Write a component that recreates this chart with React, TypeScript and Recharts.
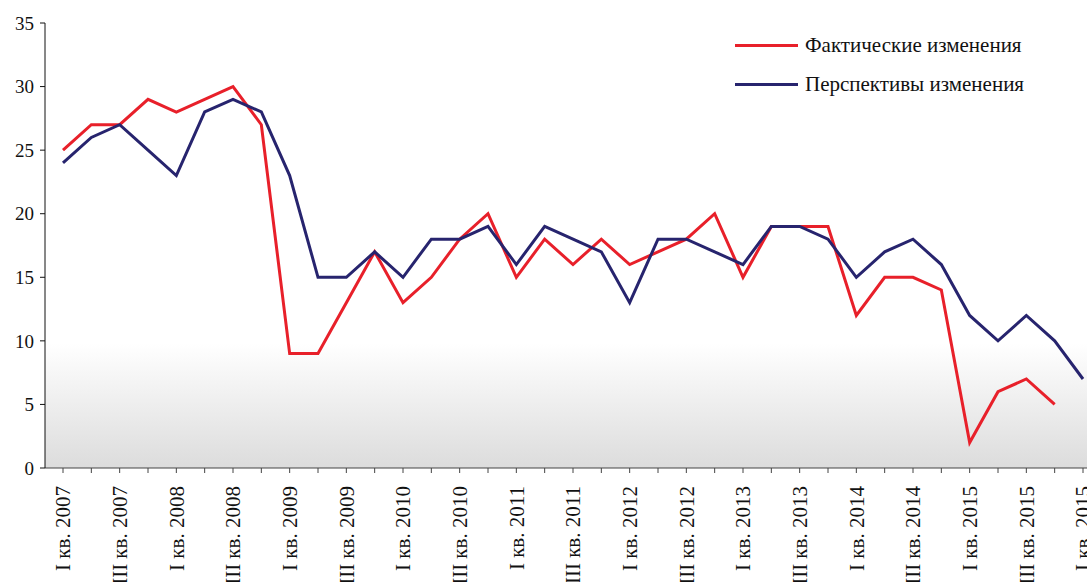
import { LineChart, Line, XAxis, YAxis, CartesianGrid } from 'recharts';

const QUARTERS = [
  'I кв. 2007', 'II кв. 2007', 'III кв. 2007', 'IV кв. 2007',
  'I кв. 2008', 'II кв. 2008', 'III кв. 2008', 'IV кв. 2008',
  'I кв. 2009', 'II кв. 2009', 'III кв. 2009', 'IV кв. 2009',
  'I кв. 2010', 'II кв. 2010', 'III кв. 2010', 'IV кв. 2010',
  'I кв. 2011', 'II кв. 2011', 'III кв. 2011', 'IV кв. 2011',
  'I кв. 2012', 'II кв. 2012', 'III кв. 2012', 'IV кв. 2012',
  'I кв. 2013', 'II кв. 2013', 'III кв. 2013', 'IV кв. 2013',
  'I кв. 2014', 'II кв. 2014', 'III кв. 2014', 'IV кв. 2014',
  'I кв. 2015', 'II кв. 2015', 'III кв. 2015', 'IV кв. 2015',
  'I кв. 2015',
];

const ACTUAL = [
  25, 27, 27, 29, 28, 29, 30, 27,
  9, 9, 13, 17, 13, 15, 18, 20,
  15, 18, 16, 18, 16, 17, 18, 20,
  15, 19, 19, 19, 12, 15, 15, 14,
  2, 6, 7, 5, null,
];

const OUTLOOK = [
  24, 26, 27, 25, 23, 28, 29, 28,
  23, 15, 15, 17, 15, 18, 18, 19,
  16, 19, 18, 17, 13, 18, 18, 17,
  16, 19, 19, 18, 15, 17, 18, 16,
  12, 10, 12, 10, 7,
];

const Y_TICKS = [0, 5, 10, 15, 20, 25, 30, 35];

const RED = '#e8202a';
const NAVY = '#27246e';
const FONT = '"Liberation Serif", "Times New Roman", serif';

const data = QUARTERS.map((q, i) => ({ q, actual: ACTUAL[i], outlook: OUTLOOK[i] }));

const SERIES = [
  { key: 'actual', name: 'Фактические изменения', color: RED },
  { key: 'outlook', name: 'Перспективы изменения', color: NAVY },
];

function QuarterTick({ x, y, payload, index }: any) {
  if (index % 2 !== 0) return null;
  return (
    <g transform={`translate(${x},${y + 11})`}>
      <text
        transform="rotate(-90)"
        textAnchor="end"
        dy="0.35em"
        fontFamily={FONT}
        fontSize={21}
        fill="#111"
      >
        {payload.value}
      </text>
    </g>
  );
}

export default function App() {
  return (
    <div style={{ position: 'relative', width: 1087, height: 582, background: '#fff' }}>
      <style>{`body{margin:0}`}</style>
      <LineChart
        width={1087}
        height={582}
        data={data}
        margin={{ top: 23, right: 0, left: 0, bottom: 0 }}
      >
        <defs>
          <linearGradient id="plotBg" x1="0" y1="0" x2="0" y2="1">
            <stop offset="0%" stopColor="#ffffff" />
            <stop offset="72%" stopColor="#ffffff" />
            <stop offset="100%" stopColor="#dcdcdc" />
          </linearGradient>
        </defs>
        <CartesianGrid fill="url(#plotBg)" horizontal={false} vertical={false} />
        <XAxis
          dataKey="q"
          interval={0}
          height={114}
          padding={{ left: 18, right: 4 }}
          tick={<QuarterTick />}
          tickSize={5}
          stroke="#444"
          allowDuplicatedCategory
        />
        <YAxis
          domain={[0, 35]}
          ticks={Y_TICKS}
          width={45}
          tickSize={5}
          tickMargin={6}
          stroke="#111"
          tick={{ fill: '#111', fontFamily: FONT, fontSize: 19 }}
        />
        {SERIES.map((s) => (
          <Line
            key={s.key}
            dataKey={s.key}
            name={s.name}
            stroke={s.color}
            strokeWidth={3}
            dot={false}
            isAnimationActive={false}
            connectNulls={false}
          />
        ))}
      </LineChart>
      <div
        style={{
          position: 'absolute',
          top: 26,
          left: 735,
          fontFamily: FONT,
          fontSize: 21,
          color: '#111',
        }}
      >
        {SERIES.map((s) => (
          <div key={s.key} style={{ display: 'flex', alignItems: 'center', height: 39 }}>
            <span style={{ width: 63, height: 3, background: s.color, marginRight: 7 }} />
            <span>{s.name}</span>
          </div>
        ))}
      </div>
    </div>
  );
}
